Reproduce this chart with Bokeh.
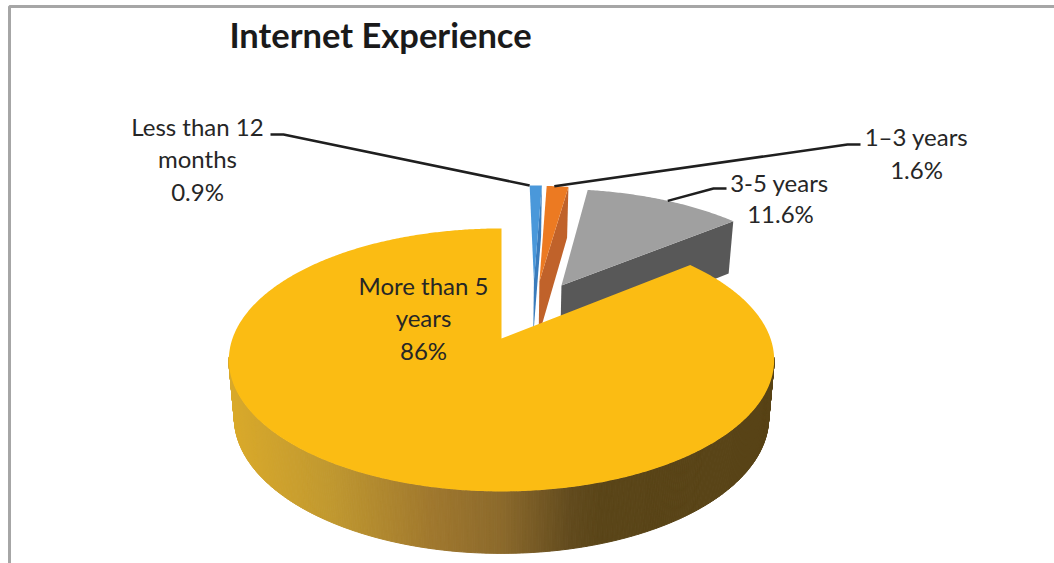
import math
from bokeh.plotting import figure
from bokeh.models import Range1d
from bokeh.core.properties import value
from bokeh.embed import file_html
from bokeh.resources import INLINE

# Survey shares, in slice order clockwise from twelve o'clock
categories = ["Less than 12 months", "1–3 years", "3-5 years", "More than 5 years"]
shares = [0.9, 1.6, 11.6, 86.0]
value_labels = ["0.9%", "1.6%", "11.6%", "86%"]
title_text = "Internet Experience"

top_colors = ["#4a98da", "#ec7a22", "#a0a0a0", "#fbbc13"]
wall_colors = ["#3a7cbc", "#c0622a", "#585858", "#8f6c2c"]

# Slice offset from the pie centre, in disc units (x to the right, y toward the viewer)
explode = [(0.130, -0.485), (0.152, -0.480), (0.239, -0.444), (0.0, 0.0)]

# Projection of the tilted disc onto the page
CX, CY = 501.0, 338.0
SX, SY = 269.0, 128.0
PERSP = 0.163
DEPTH = 56.7
BOTTOM_SHRINK = 0.98
# Part of the rim that faces the viewer, in degrees clockwise from twelve o'clock
FRONT_FROM, FRONT_TO = 98.0, 262.0

# Text layout: (centre x, centre y, text)
LABEL_PX = "24px"
label_rows = [
    (197, 126, "Less than 12"), (197, 158, "months"), (197, 191, value_labels[0]),
    (916, 136, categories[1]), (916, 169, value_labels[1]),
    (779, 182, categories[2]), (780, 213, value_labels[2]),
    (423, 285, "More than 5"), (423, 317, "years"), (423, 350, value_labels[3]),
]
# Leader routes: slice index, outer angle fraction, elbow and end of the line
leaders = [
    (0, 0.0, (283, 134), (270, 134)),
    (1, 0.35, (847, 144), (860, 144)),
    (2, 0.52, (713, 188), (726, 188)),
]


def top_point(dx, dy):
    w = 1.0 / (1.0 - PERSP * dy)
    return CX + SX * dx * w, CY + SY * dy * w


def bottom_point(dx, dy):
    w = 1.0 / (1.0 - PERSP * dy)
    x, y = top_point(dx, dy)
    return CX + (x - CX) * BOTTOM_SHRINK, y + DEPTH * math.sqrt(w)


def rim(offset, deg):
    a = math.radians(deg)
    return offset[0] + math.sin(a), offset[1] - math.cos(a)


def rim_shade(x):
    """Side-wall colour of the large slice, darkening from left to right."""
    stops = [(227, (218, 170, 42)), (330, (192, 152, 48)), (430, (160, 120, 46)),
             (500, (140, 106, 44)), (570, (98, 75, 30)), (600, (90, 69, 24)), (775, (88, 67, 22))]
    for (x0, c0), (x1, c1) in zip(stops, stops[1:]):
        if x <= x1:
            t = max(0.0, (x - x0) / (x1 - x0))
            return "#%02x%02x%02x" % tuple(round(a + (b - a) * t) for a, b in zip(c0, c1))
    return "#58431a"


p = figure(width=1054, height=563, x_range=Range1d(0, 1054), y_range=Range1d(563, 0),
           output_backend="svg", toolbar_location=None, min_border=0,
           background_fill_color="white", border_fill_color="white", outline_line_color=None)
p.axis.visible = False
p.grid.visible = False

# Chart frame
p.line([9, 9, 1054], [563, 6, 6], line_color="#a6a6a6", line_width=3)

total = sum(shares)
start = 0.0
spans = []
for i, share in enumerate(shares):
    sweep = 360.0 * share / total
    spans.append((start, start + sweep))
    start += sweep

for i, (a0, a1) in enumerate(spans):
    off = explode[i]
    n = max(8, int(a1 - a0) * 2)
    degs = [a0 + (a1 - a0) * k / n for k in range(n + 1)]

    if i == 3:
        # Curved outer wall, shaded strip by strip; only the front of the rim shows
        xs, ys, cols = [], [], []
        front = [d for d in degs if FRONT_FROM <= d <= FRONT_TO]
        for d0, d1 in zip(front, front[1:]):
            t0, t1 = top_point(*rim(off, d0)), top_point(*rim(off, d1))
            b0, b1 = bottom_point(*rim(off, d0)), bottom_point(*rim(off, d1))
            xs.append([t0[0], t1[0], b1[0], b0[0]])
            ys.append([t0[1], t1[1], b1[1], b0[1]])
            cols.append(rim_shade((t0[0] + t1[0]) / 2))
        p.patches(xs, ys, fill_color=cols, line_color=cols, line_width=1)

    # Radial wall along the closing edge
    apex_t = top_point(*off)
    apex_b = bottom_point(*off)
    end_t = top_point(*rim(off, a1))
    end_b = bottom_point(*rim(off, a1))
    p.patch([apex_t[0], end_t[0], end_b[0], apex_b[0]],
            [apex_t[1], end_t[1], end_b[1], apex_b[1]],
            fill_color=wall_colors[i], line_color=None)

    # Top face
    pts = [apex_t] + [top_point(*rim(off, d)) for d in degs]
    p.patch([q[0] for q in pts], [q[1] for q in pts], fill_color=top_colors[i], line_color=None)

# Leader lines from the slice rims to their labels
for idx, frac, elbow, end in leaders:
    a0, a1 = spans[idx]
    ax, ay = top_point(*rim(explode[idx], a0 + (a1 - a0) * frac))
    p.line([ax, elbow[0], end[0]], [ay, elbow[1], end[1]],
           line_color="#1f1f1f", line_width=2.5)

p.text([x for x, _, _ in label_rows], [y for _, y, _ in label_rows], text=[t for _, _, t in label_rows],
       text_font=value("Lato"), text_font_size=value(LABEL_PX), text_color="#262626",
       text_align="center", text_baseline="middle")
p.text([380], [34], text=[title_text], text_font=value("Lato"), text_font_size=value("34.5px"),
       text_font_style="bold", text_color="#1a1a1a", text_align="center", text_baseline="middle")

open("out.html", "w").write(file_html(p, INLINE))
